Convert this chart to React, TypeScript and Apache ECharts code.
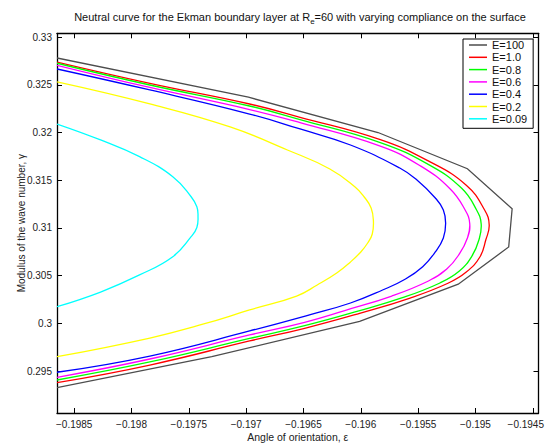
import React, { useEffect, useRef } from "react";
import * as echarts from "echarts";

// Neutral curves (angle of orientation ε, wave-number modulus γ) for each compliance E
const seriesNames = ["E=100", "E=1.0", "E=0.8", "E=0.6", "E=0.4", "E=0.2", "E=0.09"];
const seriesColors = ["#4d4d4d", "#ff0000", "#00ff00", "#ff00ff", "#0000ff", "#ffff00", "#00ffff"];
// E=100 was computed on a coarse grid and is drawn as straight segments
const seriesSmooth = [0, 0.45, 0.45, 0.45, 0.45, 0.45, 0.45];

const curveE100: [number, number][] = [
  [-0.19865, 0.32781], [-0.19698, 0.3237], [-0.19585, 0.32], [-0.19507, 0.3162],
  [-0.19468, 0.312], [-0.19471, 0.308], [-0.19515, 0.3041], [-0.19601, 0.3002],
  [-0.1973, 0.2965], [-0.19865, 0.29325],
];

const curveE1_0: [number, number][] = [
  [-0.19865, 0.32739], [-0.19784, 0.32516], [-0.19697, 0.32299], [-0.19653, 0.3216],
  [-0.19583, 0.31925], [-0.1954, 0.31695], [-0.19508, 0.31448], [-0.19492, 0.31188],
  [-0.19488, 0.31031], [-0.19491, 0.30873], [-0.19496, 0.30698], [-0.19508, 0.30538],
  [-0.19524, 0.3042], [-0.19557, 0.30265], [-0.19601, 0.30105], [-0.19649, 0.29948],
  [-0.19697, 0.29815], [-0.19784, 0.29563], [-0.19865, 0.29378],
];

const curveE0_8: [number, number][] = [
  [-0.19865, 0.32726], [-0.19784, 0.32498], [-0.19697, 0.32278], [-0.19653, 0.32136],
  [-0.19583, 0.31895], [-0.1954, 0.31658], [-0.19512, 0.31415], [-0.19499, 0.31188],
  [-0.19495, 0.31041], [-0.19497, 0.30873], [-0.19503, 0.30706], [-0.19514, 0.30548],
  [-0.19531, 0.30423], [-0.19563, 0.30271], [-0.19605, 0.30119], [-0.19649, 0.29975],
  [-0.19697, 0.29841], [-0.19784, 0.29595], [-0.19865, 0.29406],
];

const curveE0_6: [number, number][] = [
  [-0.19865, 0.32705], [-0.19784, 0.32472], [-0.19697, 0.32241], [-0.19653, 0.32103],
  [-0.19583, 0.31858], [-0.19548, 0.3165], [-0.19522, 0.31408], [-0.19509, 0.31188],
  [-0.19505, 0.31048], [-0.19507, 0.30894], [-0.19514, 0.30727], [-0.19525, 0.30569],
  [-0.19541, 0.30444], [-0.19573, 0.30286], [-0.19614, 0.30134], [-0.19649, 0.30011],
  [-0.19697, 0.29878], [-0.19784, 0.29626], [-0.19865, 0.29434],
];

const curveE0_4: [number, number][] = [
  [-0.19865, 0.32666], [-0.19784, 0.32446], [-0.19697, 0.32194], [-0.19653, 0.32037],
  [-0.19609, 0.31869], [-0.19566, 0.31628], [-0.19551, 0.31502], [-0.19535, 0.31314],
  [-0.19528, 0.31188], [-0.19526, 0.31048], [-0.19528, 0.30894], [-0.19535, 0.30748],
  [-0.19546, 0.30594], [-0.19561, 0.30465], [-0.19581, 0.30349], [-0.19609, 0.30213],
  [-0.19644, 0.30092], [-0.19697, 0.2992], [-0.19784, 0.29657], [-0.19865, 0.29487],
];

const curveE0_2: [number, number][] = [
  [-0.19865, 0.3253], [-0.19784, 0.32299], [-0.19714, 0.32058], [-0.19664, 0.31817],
  [-0.19627, 0.31618], [-0.19605, 0.31429], [-0.19597, 0.31324], [-0.19591, 0.31209],
  [-0.19589, 0.31073], [-0.1959, 0.30936], [-0.19594, 0.30842], [-0.196, 0.30748],
  [-0.19609, 0.30643], [-0.19621, 0.30527], [-0.19638, 0.30402], [-0.19656, 0.30286],
  [-0.19697, 0.3014], [-0.19737, 0.29993], [-0.19784, 0.29846], [-0.19865, 0.2965],
];

const curveE0_09: [number, number][] = [
  [-0.19865, 0.32089], [-0.19827, 0.31922], [-0.19793, 0.31747], [-0.19764, 0.31537],
  [-0.19748, 0.31327], [-0.19743, 0.31222], [-0.19742, 0.31125], [-0.19743, 0.31005],
  [-0.19748, 0.30908], [-0.19764, 0.30698], [-0.19793, 0.30507], [-0.19827, 0.30328],
  [-0.19865, 0.30174],
];

const curves = [curveE100, curveE1_0, curveE0_8, curveE0_6, curveE0_4, curveE0_2, curveE0_09];

// Axis ranges and tick positions
const xRange = [-0.19865, -0.19445];
const yRange = [0.2906, 0.3304];
const xTicks = [-0.1985, -0.198, -0.1975, -0.197, -0.1965, -0.196, -0.1955, -0.195, -0.1945];
const yTicks = [0.295, 0.3, 0.305, 0.31, 0.315, 0.32, 0.325, 0.33];

const FONT = "Liberation Sans, Arial, Helvetica, sans-serif";

const fmt = (v: number) => String(parseFloat(v.toFixed(5))).replace("-", "\u2212");

export default function App() {
  const ref = useRef<HTMLDivElement>(null);

  useEffect(() => {
    if (!ref.current) return;
    const chart = echarts.init(ref.current, undefined, { renderer: "svg" });

    const axisLine = { show: true, onZero: false, lineStyle: { color: "#000", width: 1.3 } };
    const tick = (values: number[]) => ({
      show: true,
      inside: true,
      length: 5,
      customValues: values,
      lineStyle: { color: "#000", width: 1 },
    });

    // Each curve is one custom series: its points go through the cartesian
    // scales (api.coord) and are joined into a single smoothed polyline.
    const curveSeries = curves.map((data, i) => ({
      name: seriesNames[i],
      type: "custom",
      coordinateSystem: "cartesian2d",
      xAxisIndex: 0,
      yAxisIndex: 0,
      data,
      clip: true,
      itemStyle: { color: seriesColors[i] },
      z: 2 + i,
      renderItem: (params: any, api: any) => {
        if (params.dataIndex !== 0) return null;
        const pts = data.map((p) => api.coord(p));
        return {
          type: "polyline",
          shape: { points: pts, smooth: seriesSmooth[i] },
          style: { stroke: seriesColors[i], lineWidth: 1.3, fill: null },
          silent: true,
        };
      },
    }));

    chart.setOption({
      animation: false,
      backgroundColor: "#fff",
      title: {
        text: "Neutral curve for the Ekman boundary layer at R{sub|e}=60 with varying compliance on the surface",
        left: 300,
        top: 9,
        textAlign: "center",
        padding: 0,
        textStyle: {
          fontFamily: FONT,
          fontSize: 11,
          fontWeight: "normal",
          color: "#111",
          lineHeight: 16,
          rich: {
            sub: {
              fontFamily: FONT,
              fontSize: 8,
              lineHeight: 8,
              color: "#111",
              verticalAlign: "bottom",
            },
          },
        },
      },
      grid: { left: 57, right: 10.5, top: 33.3, bottom: 35, containLabel: false },
      legend: {
        orient: "vertical",
        left: 463,
        top: 39,
        padding: [0, 6, 3.5, 6],
        itemGap: 0.3,
        itemWidth: 18,
        itemHeight: 1.5,
        icon: "rect",
        selectedMode: false,
        borderColor: "#000",
        borderWidth: 1,
        backgroundColor: "#fff",
        data: seriesNames,
        textStyle: { fontFamily: FONT, fontSize: 11, lineHeight: 12, color: "#111" },
      },
      xAxis: [
        {
          type: "value",
          min: xRange[0],
          max: xRange[1],
          position: "bottom",
          axisLine,
          axisTick: tick(xTicks),
          splitLine: { show: false },
          axisLabel: {
            customValues: xTicks,
            formatter: (v: number) =>
              Math.abs(v - xTicks[xTicks.length - 1]) < 1e-9 ? "{last|" + fmt(v) + "}" : fmt(v),
            fontFamily: FONT,
            fontSize: 10,
            color: "#222",
            margin: 6,
            rich: { last: { fontFamily: FONT, fontSize: 10, color: "#222", padding: [0, 14, 0, 0] } },
          },
          name: "Angle of orientation, \u03b5",
          nameLocation: "middle",
          nameGap: 18,
          nameMoveOverlap: false,
          nameTextStyle: { fontFamily: FONT, fontSize: 10.5, color: "#222" },
        },
        {
          type: "value",
          min: xRange[0],
          max: xRange[1],
          position: "top",
          axisLine,
          axisTick: tick(xTicks),
          splitLine: { show: false },
          axisLabel: { show: false },
        },
      ],
      yAxis: [
        {
          type: "value",
          min: yRange[0],
          max: yRange[1],
          position: "left",
          axisLine,
          axisTick: tick(yTicks),
          splitLine: { show: false },
          axisLabel: {
            customValues: yTicks,
            formatter: fmt,
            fontFamily: FONT,
            fontSize: 10,
            color: "#222",
            margin: 5,
          },
          name: "Modulus of the wave number, \u03b3",
          nameLocation: "middle",
          nameGap: 31,
          nameMoveOverlap: false,
          nameTextStyle: { fontFamily: FONT, fontSize: 10, color: "#222" },
        },
        {
          type: "value",
          min: yRange[0],
          max: yRange[1],
          position: "right",
          axisLine,
          axisTick: tick(yTicks),
          splitLine: { show: false },
          axisLabel: { show: false },
        },
      ],
      series: curveSeries,
    });

    return () => chart.dispose();
  }, []);

  return (
    <div
      ref={ref}
      style={{ position: "fixed", left: 0, top: 0, width: 549, height: 448 }}
    />
  );
}
